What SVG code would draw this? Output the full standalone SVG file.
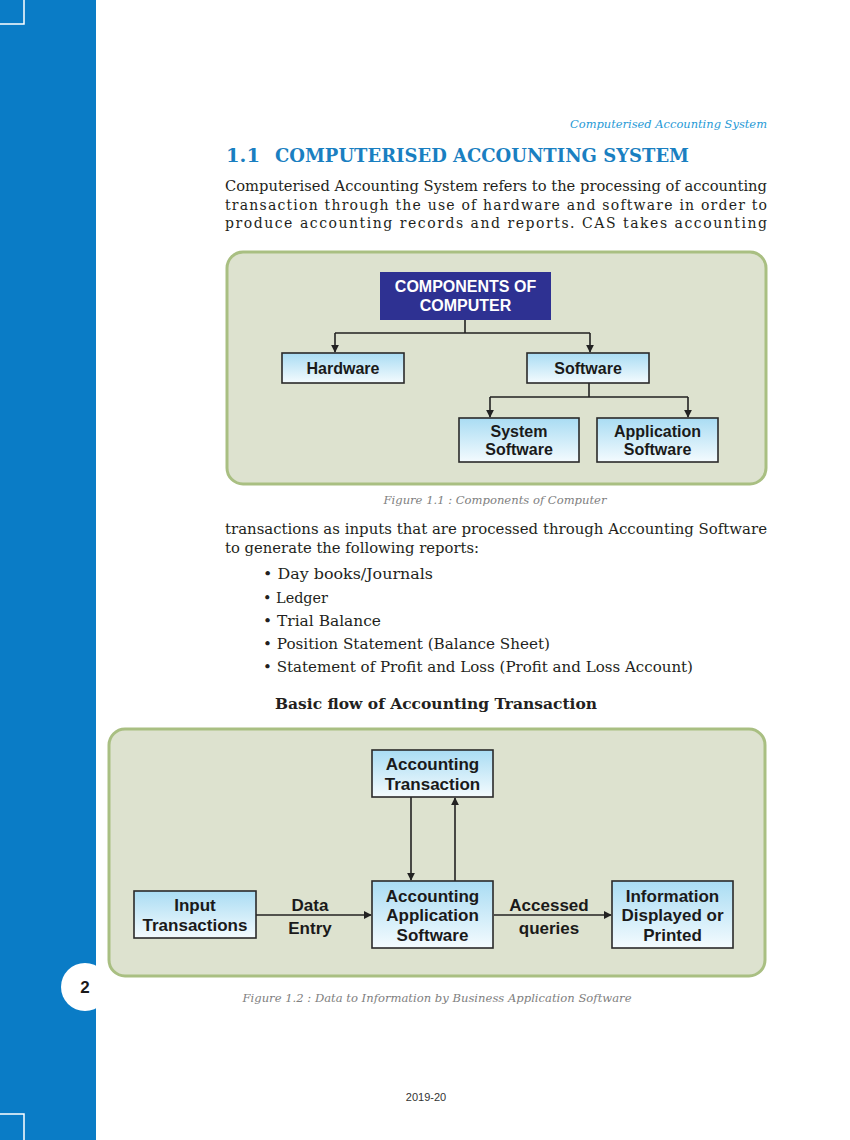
<svg xmlns="http://www.w3.org/2000/svg" width="850" height="1140" viewBox="0 0 850 1140">
<defs>
<linearGradient id="nodeGrad" x1="0" y1="0" x2="0" y2="1">
<stop offset="0" stop-color="#a9dcf3"/>
<stop offset="1" stop-color="#f4fbfe"/>
</linearGradient>
<marker id="arr" viewBox="0 0 10 10" refX="9" refY="5" markerWidth="8" markerHeight="8" markerUnits="userSpaceOnUse" orient="auto">
<path d="M0,0 L10,5 L0,10 z" fill="#222"/>
</marker>
<style>
.body{font-family:"DejaVu Serif","Liberation Serif",serif;font-size:14px;fill:#231f20}
.cap{font-family:"DejaVu Serif","Liberation Serif",serif;font-style:italic;font-size:11px;fill:#808080}
.node{fill:url(#nodeGrad);stroke:#2a2a2a;stroke-width:1.6}
.nt{font-family:"Liberation Sans",Arial,sans-serif;font-weight:bold;font-size:16px;fill:#1a1a1a;text-anchor:middle}
.nt2{font-family:"Liberation Sans",Arial,sans-serif;font-weight:bold;font-size:17px;fill:#1a1a1a;text-anchor:middle}
.panel{fill:#dde2cf;stroke:#a9bf82;stroke-width:3}
.conn{fill:none;stroke:#222;stroke-width:1.6}
.crop{stroke:#ffffff;stroke-width:1.5;fill:none}
</style>
</defs>
<rect x="0" y="0" width="850" height="1140" fill="#ffffff"/>
<rect x="0" y="0" width="96" height="1140" fill="#0a7cc6"/>
<g id="cropmarks">
<path class="crop" d="M24,0 V24 H0"/>
<path class="crop" d="M0,1114 H24 V1140"/>
</g>
<g id="pagenum">
<circle cx="85" cy="987" r="24" fill="#ffffff"/>
<text x="85" y="993" font-family="Liberation Sans,Arial,sans-serif" font-weight="bold" font-size="17" fill="#1a1a1a" text-anchor="middle">2</text>
</g>
<text x="767" y="128" text-anchor="end" font-family="DejaVu Serif,Liberation Serif,serif" font-style="italic" font-size="11.5" fill="#1f9ad6" textLength="197" lengthAdjust="spacingAndGlyphs">Computerised Accounting System</text>
<g font-family="DejaVu Serif,Liberation Serif,serif" font-weight="bold" font-size="18.5" fill="#1a7fc1">
<text x="226" y="162" textLength="34" lengthAdjust="spacingAndGlyphs">1.1</text>
<text x="275" y="162" textLength="414" lengthAdjust="spacingAndGlyphs">COMPUTERISED ACCOUNTING SYSTEM</text>
</g>
<text class="body" x="225" y="191" textLength="542" lengthAdjust="spacingAndGlyphs">Computerised Accounting System refers to the processing of accounting</text>
<text class="body" x="225" y="210" textLength="542" lengthAdjust="spacing">transaction through the use of hardware and software in order to</text>
<text class="body" x="225" y="228" textLength="542" lengthAdjust="spacing">produce accounting records and reports. CAS takes accounting</text>

<g id="figure1">
<rect class="panel" x="227" y="252" width="539" height="232" rx="16"/>
</g>
<g id="fig1-connectors">
<path class="conn" d="M465,320 V333 M335,333 H590"/>
<path class="conn" d="M335,333 V352" marker-end="url(#arr)"/>
<path class="conn" d="M590,333 V352" marker-end="url(#arr)"/>
<path class="conn" d="M589,383 V397 M490,397 H688"/>
<path class="conn" d="M490,397 V417" marker-end="url(#arr)"/>
<path class="conn" d="M688,397 V417" marker-end="url(#arr)"/>
</g>
<g id="n-components">
<rect x="380" y="272" width="171" height="48" fill="#2e3192"/>
<text x="465.5" y="292" font-family="Liberation Sans,Arial,sans-serif" font-weight="bold" font-size="16" fill="#ffffff" text-anchor="middle">COMPONENTS OF</text>
<text x="465.5" y="311" font-family="Liberation Sans,Arial,sans-serif" font-weight="bold" font-size="16" fill="#ffffff" text-anchor="middle">COMPUTER</text>
</g>
<g id="n-hardware">
<rect class="node" x="282" y="353" width="122" height="30"/>
<text class="nt" x="343" y="374">Hardware</text>
</g>
<g id="n-software">
<rect class="node" x="527" y="353" width="122" height="30"/>
<text class="nt" x="588" y="374">Software</text>
</g>
<g id="n-system">
<rect class="node" x="459" y="418" width="120" height="44"/>
<text class="nt" x="519" y="437">System</text>
<text class="nt" x="519" y="455">Software</text>
</g>
<g id="n-application">
<rect class="node" x="597" y="418" width="121" height="44"/>
<text class="nt" x="657.5" y="437">Application</text>
<text class="nt" x="657.5" y="455">Software</text>
</g>
<text class="cap" x="495" y="504" text-anchor="middle" textLength="223" lengthAdjust="spacingAndGlyphs">Figure 1.1 :  Components of Computer</text>

<text class="body" x="225" y="534" textLength="542" lengthAdjust="spacingAndGlyphs">transactions as inputs that are processed through Accounting Software</text>
<text class="body" x="225" y="553" textLength="254" lengthAdjust="spacingAndGlyphs">to generate the following reports:</text>
<text class="body" x="263" y="579" textLength="170" lengthAdjust="spacingAndGlyphs">• Day books/Journals</text>
<text class="body" x="263" y="603" textLength="65" lengthAdjust="spacingAndGlyphs">• Ledger</text>
<text class="body" x="263" y="626" textLength="118" lengthAdjust="spacingAndGlyphs">• Trial Balance</text>
<text class="body" x="263" y="649" textLength="287" lengthAdjust="spacingAndGlyphs">• Position Statement (Balance Sheet)</text>
<text class="body" x="263" y="672" textLength="430" lengthAdjust="spacingAndGlyphs">• Statement of Profit and Loss (Profit and Loss Account)</text>
<text x="275" y="709" font-family="DejaVu Serif,Liberation Serif,serif" font-weight="bold" font-size="14.5" fill="#231f20" textLength="322" lengthAdjust="spacingAndGlyphs">Basic flow of Accounting Transaction</text>

<g id="figure2">
<rect class="panel" x="109" y="729" width="656" height="247" rx="16"/>
</g>
<g id="fig2-connectors">
<path class="conn" d="M411,797 V880" marker-end="url(#arr)"/>
<path class="conn" d="M455,881 V798" marker-end="url(#arr)"/>
<path class="conn" d="M256,915 H371" marker-end="url(#arr)"/>
<path class="conn" d="M494,915 H611" marker-end="url(#arr)"/>
<text class="nt2" x="310" y="911">Data</text>
<text class="nt2" x="310" y="934">Entry</text>
<text class="nt2" x="549" y="911">Accessed</text>
<text class="nt2" x="549" y="934">queries</text>
</g>
<g id="n-acctrans">
<rect class="node" x="372" y="750" width="121" height="47"/>
<text class="nt2" x="432.5" y="770">Accounting</text>
<text class="nt2" x="432.5" y="790">Transaction</text>
</g>
<g id="n-aas">
<rect class="node" x="372" y="881" width="121" height="67"/>
<text class="nt2" x="432.5" y="902">Accounting</text>
<text class="nt2" x="432.5" y="921">Application</text>
<text class="nt2" x="432.5" y="941">Software</text>
</g>
<g id="n-input">
<rect class="node" x="134" y="891" width="122" height="47"/>
<text class="nt2" x="195" y="911">Input</text>
<text class="nt2" x="195" y="931">Transactions</text>
</g>
<g id="n-info">
<rect class="node" x="612" y="881" width="121" height="67"/>
<text class="nt2" x="672.5" y="902">Information</text>
<text class="nt2" x="672.5" y="921">Displayed or</text>
<text class="nt2" x="672.5" y="941">Printed</text>
</g>
<text class="cap" x="437" y="1002" text-anchor="middle" textLength="389" lengthAdjust="spacingAndGlyphs">Figure 1.2 :  Data to Information by Business Application Software</text>
<text x="426" y="1101" text-anchor="middle" font-family="Liberation Sans,Arial,sans-serif" font-size="11" fill="#333">2019-20</text>
</svg>
